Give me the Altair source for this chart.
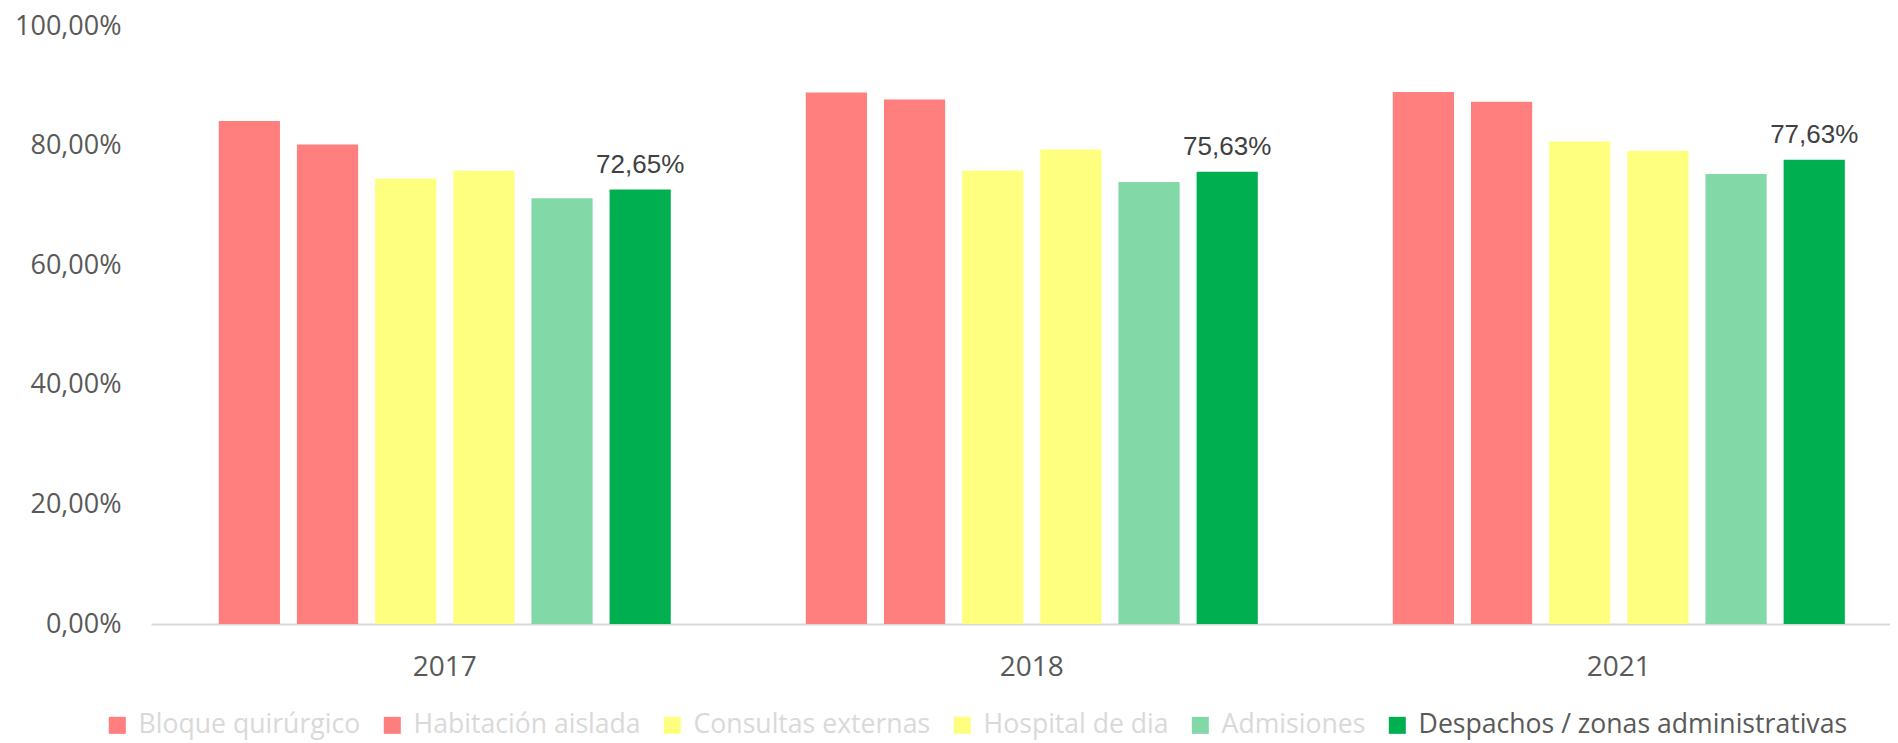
import altair as alt
import pandas as pd

years = ["2017", "2018", "2021"]
series = ["Bloque quirúrgico", "Habitación aislada", "Consultas externas",
          "Hospital de dia", "Admisiones", "Despachos / zonas administrativas"]
colors = ["#FF7F7F", "#FF7F7F", "#FFFF7F", "#FFFF7F", "#83D8A7", "#00B050"]
values_2017 = [84.1, 80.2, 74.5, 75.8, 71.2, 72.65]
values_2018 = [88.9, 87.7, 75.85, 79.35, 73.9, 75.63]
values_2021 = [88.95, 87.33, 80.7, 79.13, 75.23, 77.63]
labeled_series = "Despachos / zonas administrativas"
y_ticks = [0, 0.2, 0.4, 0.6, 0.8, 1.0]

rows = []
for year, vals in zip(years, [values_2017, values_2018, values_2021]):
    for s, v in zip(series, vals):
        rows.append({"year": year, "series": s, "value": v / 100,
                     "label": f"{v:.2f}".replace(".", ",") + "%"})
df = pd.DataFrame(rows)

x_enc = alt.X("year:N", sort=years,
              scale=alt.Scale(paddingInner=0.23, paddingOuter=0.0962, align=0.6),
              axis=alt.Axis(title=None, labelAngle=0, ticks=False, tickSize=0,
                            domainColor="#D9D9D9", domainWidth=2,
                            labelFont="Open Sans", labelFontSize=28,
                            labelColor="#595959", labelBaseline="alphabetic",
                            labelPadding=51))
xoff_enc = alt.XOffset("series:N", sort=series,
                       scale=alt.Scale(domain=series, paddingInner=0.217, paddingOuter=0))
y_enc = alt.Y("value:Q",
              scale=alt.Scale(domain=[0, 1], nice=False),
              axis=alt.Axis(title=None, values=y_ticks, grid=False, domain=False,
                            ticks=False, tickSize=0, labelPadding=30,
                            labelExpr="replace(format(datum.value, '.2%'), '.', ',')",
                            labelFont="Open Sans", labelFontSize=27,
                            labelColor="#595959"))

label_color_expr = ("datum.label == '" + labeled_series +
                    "' ? '#595959' : '#D9D9D9'")

bars = alt.Chart(df).mark_bar().encode(
    x=x_enc,
    xOffset=xoff_enc,
    y=y_enc,
    color=alt.Color("series:N", sort=series,
                    scale=alt.Scale(domain=series, range=colors),
                    legend=alt.Legend(orient="none", legendX=-47, legendY=686,
                                      direction="horizontal", title=None,
                                      symbolType="square", symbolSize=289,
                                      symbolStrokeWidth=0, labelFont="Open Sans",
                                      labelFontSize=26.6,
                                      labelColor={"expr": label_color_expr},
                                      labelOffset=8, columnPadding=18,
                                      labelLimit=0, padding=0)),
)

texts = alt.Chart(df).transform_filter(
    alt.datum.series == labeled_series
).mark_text(baseline="alphabetic", dy=-17, font="Liberation Sans",
            fontSize=26, color="#404040").encode(
    x=x_enc,
    xOffset=xoff_enc,
    y=y_enc,
    text="label:N",
)

chart = alt.layer(bars, texts).properties(
    width=1739, height=598,
    autosize=alt.AutoSizeParams(type="none"),
    padding={"left": 143, "top": 18, "right": 0, "bottom": 117},
    background="white",
).configure_view(stroke=None)

chart.save("out.html", embed_options={"renderer": "svg", "actions": False})
